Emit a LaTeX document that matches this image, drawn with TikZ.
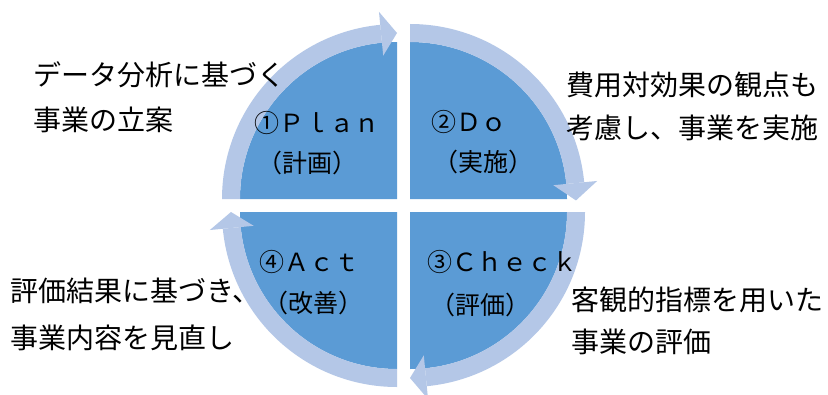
\documentclass[tikz,border=0pt]{standalone}
\usepackage{fontspec}
\setmainfont{Noto Sans CJK JP}
\definecolor{quadc}{HTML}{5B9BD5}
\definecolor{ringc}{HTML}{B4C7E7}
\begin{document}
\begin{tikzpicture}[x=1bp,y=1bp,
  outertext/.style={anchor=base west,inner sep=0pt,font=\fontsize{28bp}{28bp}\selectfont,text=black},
  innertext/.style={anchor=base west,inner sep=0pt,font=\fontsize{25bp}{25bp}\selectfont,text=black},
  quadfill/.style={fill=quadc},
  ringfill/.style={fill=ringc}]
\fill[white] (0,0) rectangle (828,394);
\useasboundingbox (0,0) rectangle (828,394);
% Plan (top-left)
\begin{scope}[shift={(397,195)}]
  \fill[quadfill] (0,0) -- (180:157) arc[start angle=180,end angle=90,radius=157] -- cycle;
  \fill[ringfill] (180:157) arc[start angle=180,end angle=95.5,radius=157] -- (95.5:175) arc[start angle=95.5,end angle=180,radius=175] -- cycle;
  \fill[ringfill] (95.5:144) -- (95.5:188) -- (90:166) -- cycle;
\end{scope}
% Do (top-right)
\begin{scope}[shift={(410,195)}]
  \fill[quadfill] (0,0) -- (90:157) arc[start angle=90,end angle=0,radius=157] -- cycle;
  \fill[ringfill] (90:157) arc[start angle=90,end angle=5.5,radius=157] -- (5.5:175) arc[start angle=5.5,end angle=90,radius=175] -- cycle;
  \fill[ringfill] (5.5:144) -- (5.5:188) -- (-0.5:166) -- cycle;
\end{scope}
% Check (bottom-right)
\begin{scope}[shift={(410,182)}]
  \fill[quadfill] (0,0) -- (0:157) arc[start angle=0,end angle=-90,radius=157] -- cycle;
  \fill[ringfill] (0:157) arc[start angle=0,end angle=-84.5,radius=157] -- (-84.5:175) arc[start angle=-84.5,end angle=0,radius=175] -- cycle;
  \fill[ringfill] (-84.5:144) -- (-84.5:188) -- (-90:166) -- cycle;
\end{scope}
% Act (bottom-left)
\begin{scope}[shift={(397,182)}]
  \fill[quadfill] (0,0) -- (-90:157) arc[start angle=-90,end angle=-180,radius=157] -- cycle;
  \fill[ringfill] (-90:157) arc[start angle=-90,end angle=-174.5,radius=157] -- (-174.5:175) arc[start angle=-174.5,end angle=-90,radius=175] -- cycle;
  \fill[ringfill] (-174.5:144) -- (-174.5:188) -- (-180:166) -- cycle;
\end{scope}
% inner labels
\node[innertext] (plan1) at (254,261.5) {①Ｐｌａｎ};
\node[innertext] (plan2) at (257,221.5) {（計画）};
\node[innertext] (do1) at (431,262.5) {②Ｄｏ};
\node[innertext] (do2) at (433,222.5) {（実施）};
\node[innertext] (check1) at (427,122.5) {③Ｃｈｅｃｋ};
\node[innertext] (check2) at (430,79.5) {（評価）};
\node[innertext] (act1) at (259,122.5) {④Ａｃｔ};
\node[innertext] (act2) at (263,81.5) {（改善）};
% outer texts
\node[outertext] (tl1) at (33,308.4) {データ分析に基づく};
\node[outertext] (tl2) at (33,263.4) {事業の立案};
\node[outertext] (tr1) at (566,298.4) {費用対効果の観点も};
\node[outertext] (tr2) at (566,255.4) {考慮し、事業を実施};
\node[outertext] (bl1) at (10,92.4) {評価結果に基づき、};
\node[outertext] (bl2) at (10,45.4) {事業内容を見直し};
\node[outertext] (br1) at (571,83.4) {客観的指標を用いた};
\node[outertext] (br2) at (571,41.4) {事業の評価};
\end{tikzpicture}
\end{document}
